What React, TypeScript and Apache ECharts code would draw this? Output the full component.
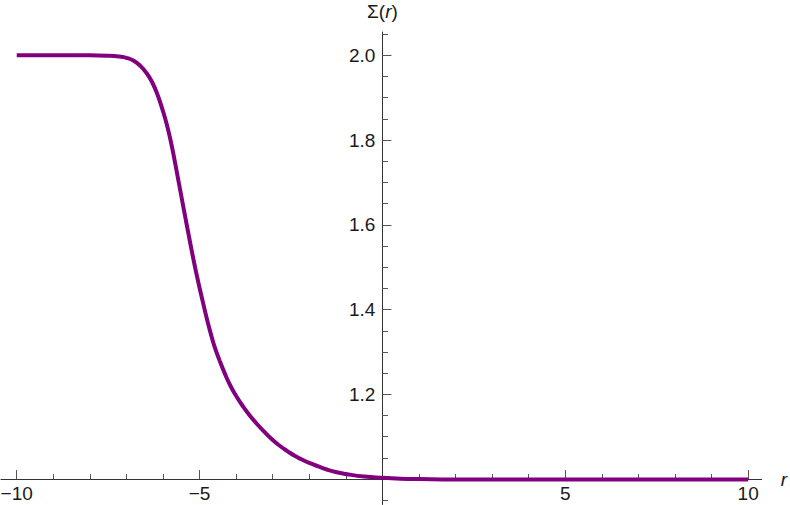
import React, { useEffect, useRef } from "react";
import * as echarts from "echarts";

// Curve Σ(r)
const rValues = [
  -10, -9, -8, -7.5, -7.2, -7.0, -6.8, -6.62, -6.45, -6.3, -6.15, -6.0, -5.9,
  -5.8, -5.7, -5.6, -5.5, -5.4, -5.3, -5.2, -5.1, -5.0, -4.9, -4.8, -4.7, -4.6,
  -4.45, -4.3, -4.15, -4.0, -3.8, -3.6, -3.4, -3.2, -3.0, -2.8, -2.6, -2.4, -2.2,
  -2.0, -1.75, -1.5, -1.25, -1.0, -0.5, 0, 0.5, 1, 2, 4, 6, 8, 10,
];
const sigmaValues = [
  2.0, 2.0, 2.0, 1.999, 1.997, 1.994, 1.987, 1.975, 1.958, 1.937, 1.907, 1.868,
  1.838, 1.802, 1.76, 1.714, 1.668, 1.622, 1.577, 1.532, 1.49, 1.451, 1.414,
  1.378, 1.345, 1.315, 1.279, 1.247, 1.219, 1.196, 1.17, 1.147, 1.127, 1.109,
  1.092, 1.078, 1.066, 1.055, 1.046, 1.038, 1.03, 1.022, 1.016, 1.012, 1.006,
  1.003, 1.001, 1.0, 0.999, 0.999, 0.999, 0.999, 0.999,
];

// Ticks
const xMajorTicks = [-10, -5, 5, 10];
const xMinorTicks = [-9, -8, -7, -6, -4, -3, -2, -1, 1, 2, 3, 4, 6, 7, 8, 9];
const yMajorTicks = [1.2, 1.4, 1.6, 1.8, 2.0];
const yMinorTicks = [
  0.95, 1.05, 1.1, 1.15, 1.25, 1.3, 1.35, 1.45, 1.5, 1.55, 1.65, 1.7, 1.75,
  1.85, 1.9, 1.95, 2.05,
];

// Axis ranges
const X_MIN = -10.43;
const X_MAX = 10.37;
const Y_MIN = 0.94;
const Y_MAX = 2.055;
const Y_CROSS = 1.0; // where the horizontal axis crosses
const X_CROSS = 0; // where the vertical axis crosses

const W = 790;
const H = 505;
const GRID_LEFT = 1;
const GRID_RIGHT = 28.3;
const GRID_TOP = 32;
const GRID_BOTTOM = 0.5;

export default function App() {
  const ref = useRef<HTMLDivElement>(null);

  useEffect(() => {
    if (!ref.current) return;
    const chart = echarts.init(ref.current, null, { renderer: "svg" });

    const gridW = W - GRID_LEFT - GRID_RIGHT;
    const gridH = H - GRID_TOP - GRID_BOTTOM;
    const xOffset = -((Y_CROSS - Y_MIN) / (Y_MAX - Y_MIN)) * gridH;
    const yOffset = -((X_CROSS - X_MIN) / (X_MAX - X_MIN)) * gridW;

    const fontFamily = "'Liberation Sans', Arial, sans-serif";
    const labelColor = "#1a1a1a";
    const axisColor = "#333";
    const tickColor = "#555";

    const fmtX = (v: number) => (v < 0 ? "\u2212" + Math.abs(v) : String(v));
    const fmtY = (v: number) => v.toFixed(1);

    const data = rValues.map((r, i) => [r, sigmaValues[i]]);

    chart.setOption({
      animation: false,
      backgroundColor: "#fff",
      grid: {
        left: GRID_LEFT,
        right: GRID_RIGHT,
        top: GRID_TOP,
        bottom: GRID_BOTTOM,
        containLabel: false,
        outerBoundsMode: "none",
      },
      xAxis: [
        {
          type: "value",
          min: X_MIN,
          max: X_MAX,
          position: "bottom",
          offset: xOffset,
          axisLine: { show: true, onZero: false, lineStyle: { color: axisColor, width: 1 } },
          axisTick: {
            show: true,
            inside: true,
            length: 9,
            customValues: xMajorTicks,
            lineStyle: { color: tickColor, width: 1 },
          },
          axisLabel: {
            show: true,
            customValues: xMajorTicks,
            formatter: fmtX,
            margin: 7,
            fontSize: 19,
            lineHeight: 14,
            fontFamily,
            color: labelColor,
          },
          splitLine: { show: false },
          name: "r",
          nameLocation: "end",
          nameGap: 19,
          nameTextStyle: {
            fontSize: 19,
            fontStyle: "italic",
            fontFamily,
            color: labelColor,
            verticalAlign: "middle",
          },
        },
        {
          type: "value",
          min: X_MIN,
          max: X_MAX,
          position: "bottom",
          offset: xOffset,
          axisLine: { show: false, onZero: false },
          axisTick: {
            show: true,
            inside: true,
            length: 5,
            customValues: xMinorTicks,
            lineStyle: { color: tickColor, width: 1 },
          },
          axisLabel: { show: false },
          splitLine: { show: false },
        },
      ],
      yAxis: [
        {
          type: "value",
          min: Y_MIN,
          max: Y_MAX,
          position: "left",
          offset: yOffset,
          axisLine: { show: true, onZero: false, lineStyle: { color: axisColor, width: 1 } },
          axisTick: {
            show: true,
            inside: true,
            length: 9,
            customValues: yMajorTicks,
            lineStyle: { color: tickColor, width: 1 },
          },
          axisLabel: {
            show: true,
            customValues: yMajorTicks,
            formatter: fmtY,
            margin: 7,
            fontSize: 19,
            fontFamily,
            color: labelColor,
          },
          splitLine: { show: false },
          name: "{n|\u03A3(}{i|r}{n|)}",
          nameLocation: "end",
          nameGap: 11,
          nameTextStyle: {
            rich: {
              n: { fontSize: 19, fontFamily, color: labelColor },
              i: { fontSize: 19, fontFamily, color: labelColor, fontStyle: "italic" },
            },
          },
        },
        {
          type: "value",
          min: Y_MIN,
          max: Y_MAX,
          position: "left",
          offset: yOffset,
          axisLine: { show: false, onZero: false },
          axisTick: {
            show: true,
            inside: true,
            length: 5.5,
            customValues: yMinorTicks,
            lineStyle: { color: tickColor, width: 1 },
          },
          axisLabel: { show: false },
          splitLine: { show: false },
        },
      ],
      series: [
        {
          type: "line",
          xAxisIndex: 0,
          yAxisIndex: 0,
          data,
          smooth: 0.5,
          showSymbol: false,
          symbol: "none",
          clip: false,
          lineStyle: { color: "#800080", width: 4 },
          z: 5,
        },
      ],
    });

    return () => chart.dispose();
  }, []);

  return (
    <div
      ref={ref}
      style={{ position: "fixed", left: 0, top: 0, width: W, height: H, background: "#fff" }}
    />
  );
}
